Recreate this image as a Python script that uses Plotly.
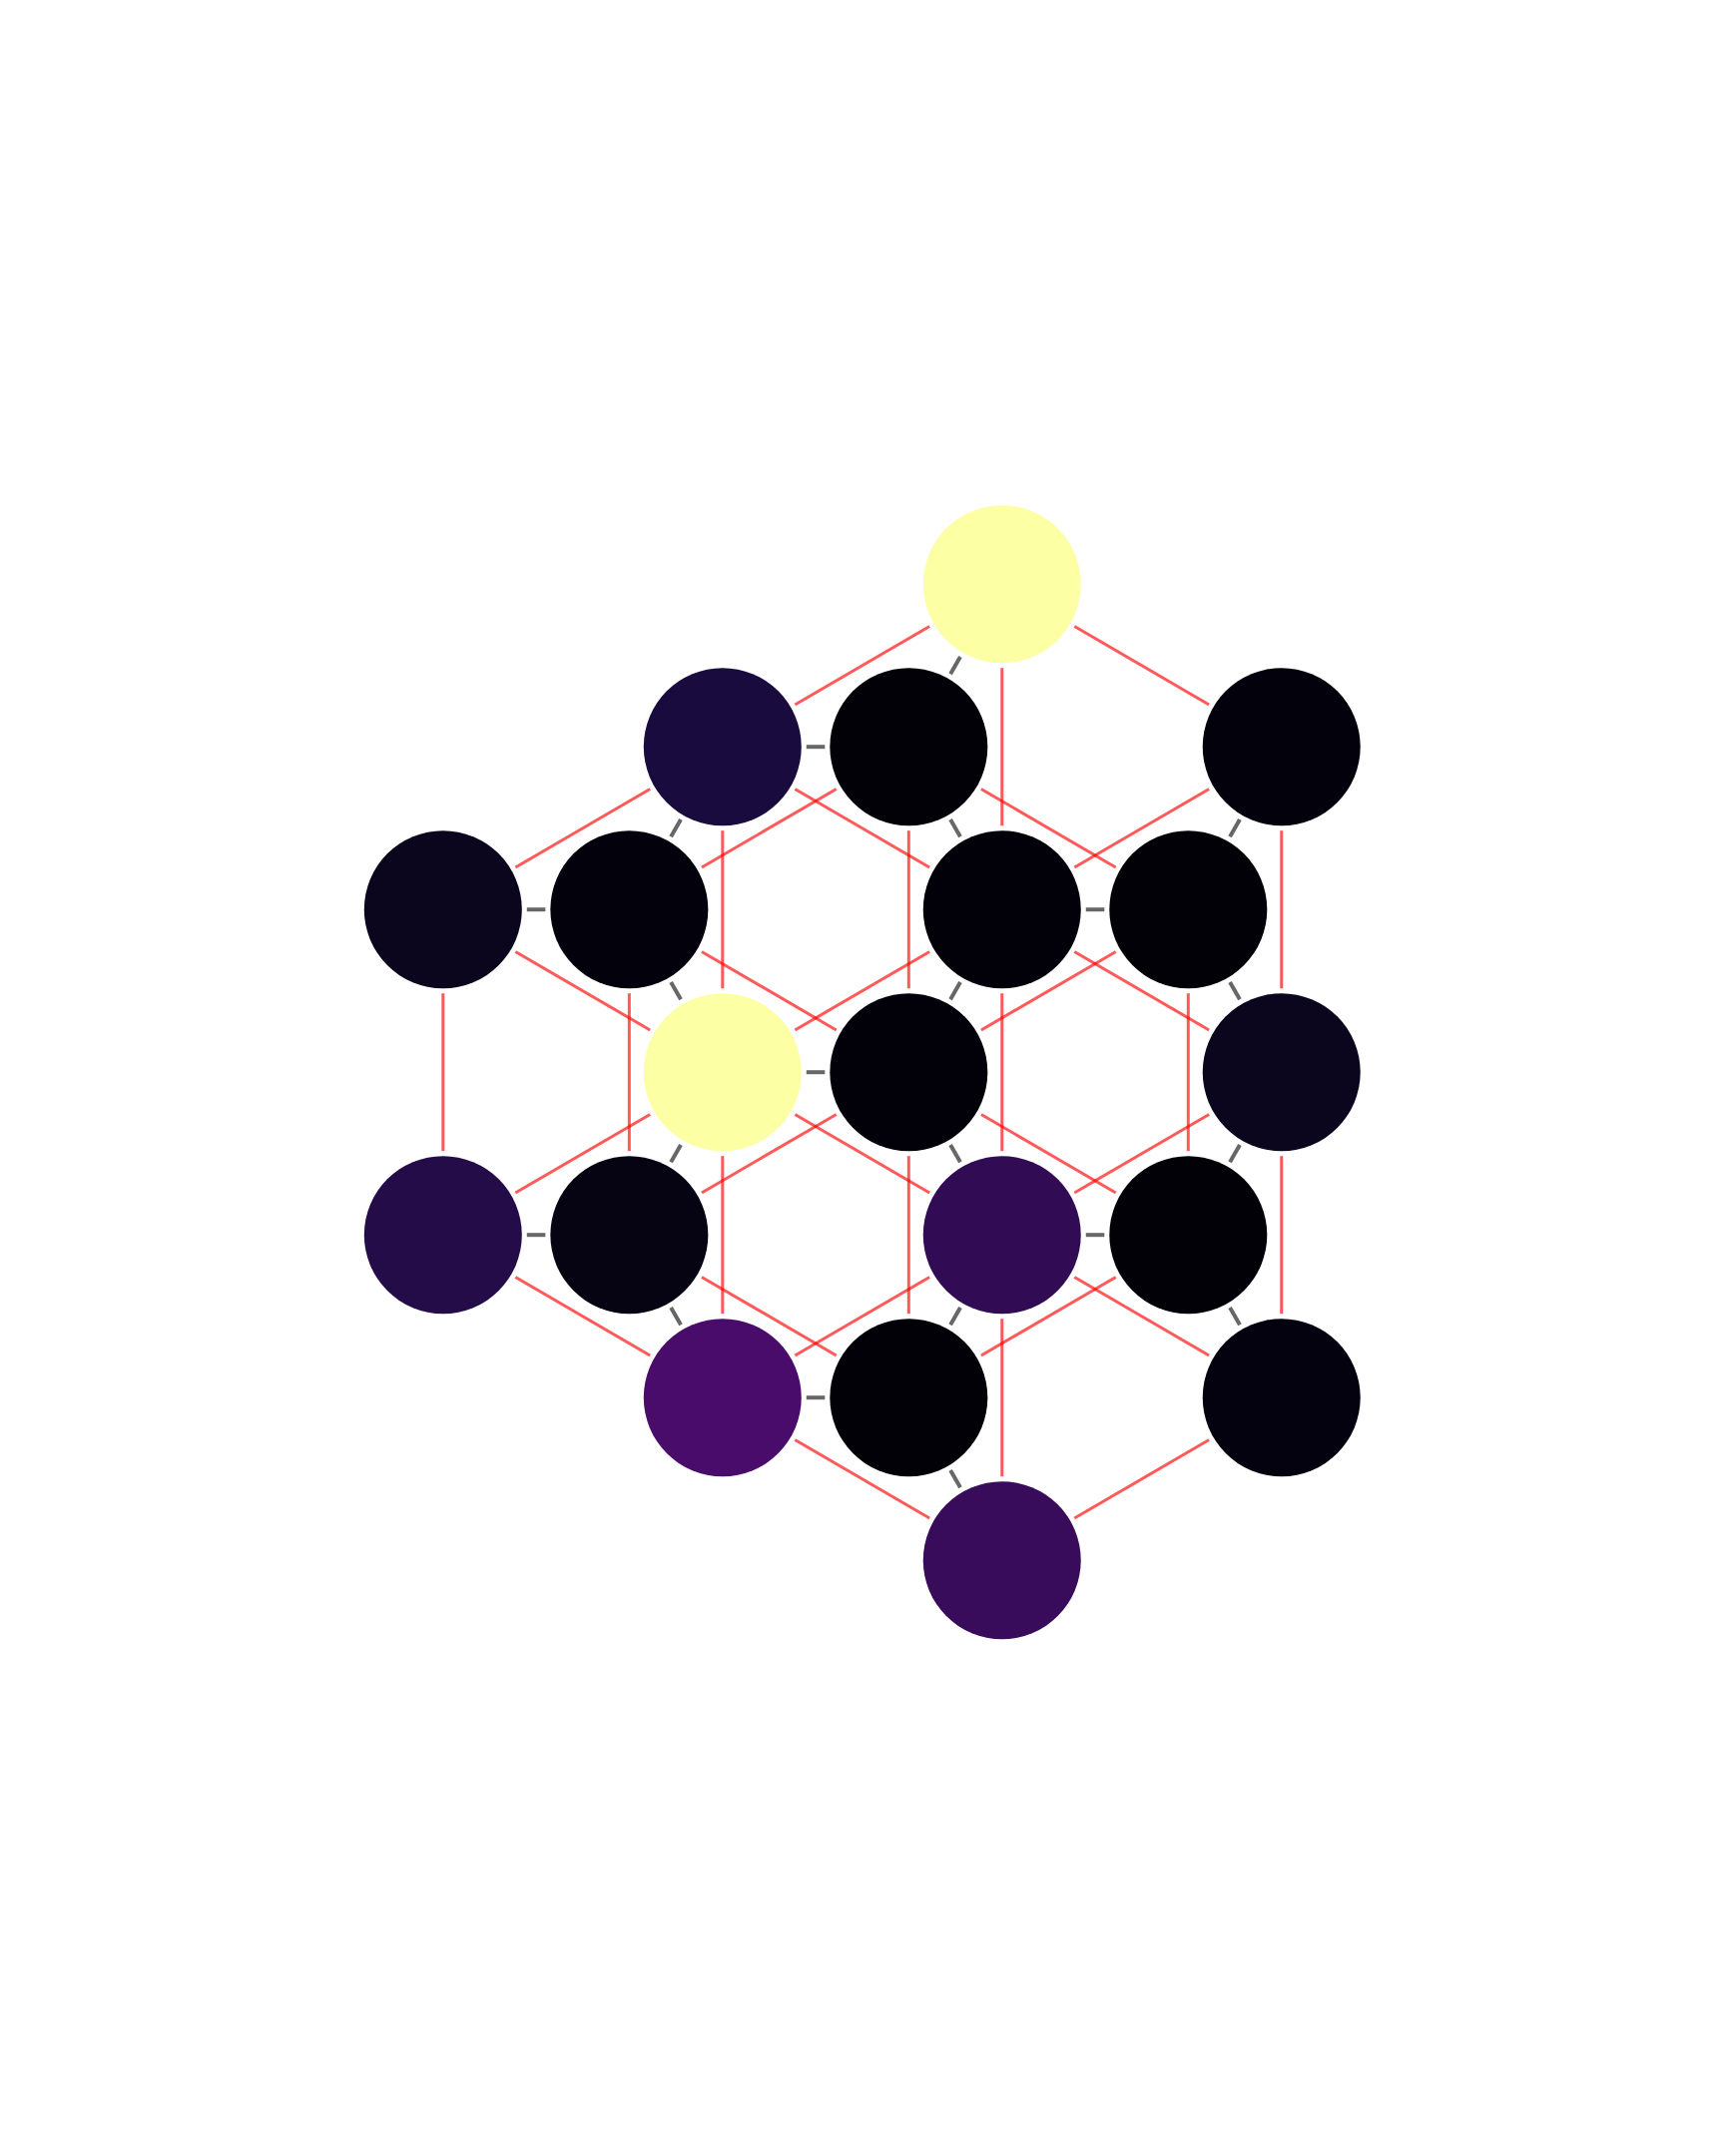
import math
import plotly.graph_objects as go

# ---- data -------------------------------------------------------------
# node positions (lattice units) and node values (0..1 on the inferno scale)
node_x = [1.732, 0.866, 1.443, 2.598, 0.000, 0.577, 1.732, 2.309, 0.866, 1.443,
          2.598, 0.000, 0.577, 1.732, 2.309, 0.866, 1.443, 2.598, 1.732]
node_y = [0.0, -0.5, -0.5, -0.5, -1.0, -1.0, -1.0, -1.0, -1.5, -1.5,
          -1.5, -2.0, -2.0, -2.0, -2.0, -2.5, -2.5, -2.5, -3.0]
node_value = [1.00, 0.105, 0.006, 0.012, 0.045, 0.012, 0.010, 0.005, 1.00, 0.010,
              0.045, 0.132, 0.025, 0.163, 0.006, 0.222, 0.005, 0.018, 0.180]

# red (intra-layer) edges
red_edges = [
    (0, 6), (6, 13), (13, 18), (1, 8), (8, 15), (3, 10), (10, 17), (4, 11),
    (0, 1), (0, 3), (1, 4), (1, 6), (3, 6), (4, 8), (6, 8), (6, 10),
    (8, 11), (8, 13), (10, 13), (11, 15), (13, 15), (13, 17), (15, 18), (17, 18),
    (2, 5), (2, 7), (2, 9), (5, 9), (5, 12), (7, 9), (7, 14), (9, 12),
    (9, 14), (9, 16), (12, 16), (14, 16),
]
# grey dashed (inter-layer) edges
grey_edges = [
    (2, 1), (2, 0), (2, 6), (5, 4), (5, 1), (5, 8), (7, 6), (7, 3), (7, 10),
    (9, 8), (9, 6), (9, 13), (12, 11), (12, 8), (12, 15), (14, 13), (14, 10),
    (14, 17), (16, 15), (16, 13), (16, 18),
]

# ---- layout constants ---------------------------------------------------
W, H = 1728, 2160
KX, KY = 323.3, 326.0          # pixels per data unit
X0_PX, Y0_PX = 443.8, 585.2    # pixel position of the data origin
NODE_D = 158                   # marker diameter, px
SHRINK = 84                    # px trimmed from each edge end

x_range = [-X0_PX / KX, (W - X0_PX) / KX]
y_range = [-(H - Y0_PX) / KY, Y0_PX / KY]


def trimmed(i, j):
    dxp = (node_x[j] - node_x[i]) * KX
    dyp = (node_y[j] - node_y[i]) * KY
    L = math.hypot(dxp, dyp)
    ux, uy = dxp / L, dyp / L
    ox, oy = SHRINK * ux / KX, SHRINK * uy / KY
    return ([node_x[i] + ox, node_x[j] - ox], [node_y[i] + oy, node_y[j] - oy])


fig = go.Figure()

for i, j in red_edges:
    xs, ys = trimmed(i, j)
    fig.add_trace(go.Scatter(x=xs, y=ys, mode="lines",
                             line=dict(color="rgba(255,0,0,0.65)", width=3),
                             hoverinfo="skip", showlegend=False))

for i, j in grey_edges:
    xs, ys = trimmed(i, j)
    fig.add_trace(go.Scatter(x=xs, y=ys, mode="lines",
                             line=dict(color="#676767", width=4, dash="solid"),
                             hoverinfo="skip", showlegend=False))

fig.add_trace(go.Scatter(
    x=node_x, y=node_y, mode="markers",
    marker=dict(size=NODE_D, color=node_value, colorscale="Inferno",
                cmin=0, cmax=1, line=dict(width=0), opacity=1),
    hoverinfo="skip", showlegend=False))

fig.update_layout(
    width=W, height=H,
    margin=dict(l=0, r=0, t=0, b=0, pad=0),
    paper_bgcolor="white", plot_bgcolor="white",
    xaxis=dict(range=x_range, visible=False, fixedrange=True),
    yaxis=dict(range=y_range, visible=False, fixedrange=True),
)

fig.write_html("out.html", config={"displayModeBar": False},
               post_script="document.body.style.margin='0';")
